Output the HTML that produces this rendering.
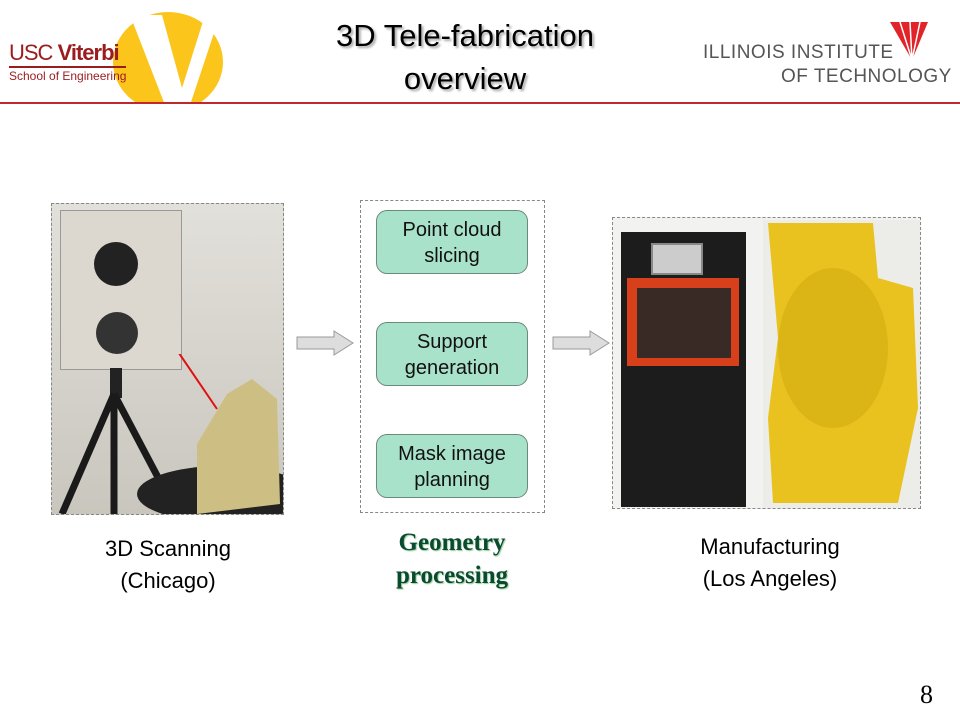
<!DOCTYPE html>
<html><head><meta charset="utf-8"><style>
body{margin:0;width:960px;height:720px;background:#fff;position:relative;overflow:hidden;font-family:"Liberation Sans",sans-serif}
.a{position:absolute}
.t{text-align:center}
.box{position:absolute;border:1px dashed #888;box-sizing:border-box}
.pill{position:absolute;left:376px;width:152px;height:64px;background:#a9e2cb;border:1px solid #6a8a7a;border-radius:11px;box-sizing:border-box;font-size:20px;line-height:26px;text-align:center;padding-top:6px;color:#111}
</style></head><body>
<!-- header -->
<div class="a" style="left:113px;top:12px;width:110px;height:100px;border-radius:50%;background:#fcc51b;clip-path:inset(0 0 8px 0)"></div>
<svg class="a" style="left:110px;top:10px" width="120" height="95"><polygon points="20,5 52,5 72,78 95,5 110,5 80,95 55,95" fill="#fff"/></svg>
<div class="a" style="left:9px;top:40px;font-size:22px;color:#9b1c1f;letter-spacing:-1px">USC <b>Viterbi</b></div>
<div class="a" style="left:9px;top:66px;font-size:12px;color:#9b1c1f;border-top:2px solid #9b1c1f;padding-top:1px">School of Engineering</div>
<div class="a t" style="left:265px;top:14px;width:400px;font-size:31px;line-height:43px;color:#000;text-shadow:2px 2px 2px #aaa">3D Tele-fabrication<br>overview</div>
<div class="a" style="left:703px;top:42px;font-size:19px;color:#555;letter-spacing:0.5px">ILLINOIS INSTITUTE</div>
<div class="a" style="left:781px;top:66px;font-size:19px;color:#555;letter-spacing:0.5px">OF TECHNOLOGY</div>
<svg class="a" style="left:890px;top:22px" width="40" height="40"><polygon points="0,0 38,0 22,38" fill="#e0242a"/><g stroke="#fff" stroke-width="1.5"><line x1="10" y1="0" x2="22" y2="38"/><line x1="20" y1="0" x2="22" y2="38"/><line x1="30" y1="0" x2="22" y2="38"/></g></svg>
<div class="a" style="left:0;top:102px;width:960px;height:2px;background:#c0282d"></div>

<!-- left photo -->
<div class="box" style="left:51px;top:203px;width:233px;height:312px;background:#d9d6ce;overflow:hidden">
 <div class="a" style="left:0;top:0;width:233px;height:312px;background:linear-gradient(#e2e0da,#c9c6be)"></div>
 <div class="a" style="left:8px;top:6px;width:120px;height:158px;background:#ddd8cf;border:1px solid #999"></div>
 <div class="a" style="left:42px;top:38px;width:44px;height:44px;border-radius:50%;background:#222"></div>
 <div class="a" style="left:44px;top:108px;width:42px;height:42px;border-radius:50%;background:#333"></div>
 <div class="a" style="left:58px;top:164px;width:12px;height:30px;background:#222"></div>
 <svg class="a" style="left:0;top:150px" width="233" height="162"><g stroke="#1a1a1a" stroke-width="7"><line x1="62" y1="40" x2="10" y2="160"/><line x1="62" y1="40" x2="62" y2="160"/><line x1="62" y1="40" x2="120" y2="150"/></g><ellipse cx="170" cy="140" rx="85" ry="28" fill="#222"/><path d="M145 90 L175 40 L200 25 L225 45 L228 150 L145 160 Z" fill="#cdbf83"/><line x1="65" y1="-92" x2="165" y2="55" stroke="#e01010" stroke-width="2"/></svg>
</div>
<div class="a t" style="left:68px;top:533px;width:200px;font-size:22px;line-height:32px">3D Scanning<br>(Chicago)</div>

<!-- arrows -->
<svg class="a" style="left:296px;top:330px" width="60" height="26"><polygon points="1,7 38,7 38,1 57,13 38,25 38,19 1,19" fill="#ddd" stroke="#999"/></svg>
<svg class="a" style="left:552px;top:330px" width="60" height="26"><polygon points="1,7 38,7 38,1 57,13 38,25 38,19 1,19" fill="#ddd" stroke="#999"/></svg>

<!-- middle -->
<div class="box" style="left:360px;top:200px;width:185px;height:313px"></div>
<div class="pill" style="top:210px">Point cloud<br>slicing</div>
<div class="pill" style="top:322px">Support<br>generation</div>
<div class="pill" style="top:434px">Mask image<br>planning</div>
<div class="a t" style="left:352px;top:526px;width:200px;font-family:'Liberation Serif',serif;font-weight:bold;font-style:normal;font-size:25px;line-height:33px;color:#0a4a30;text-shadow:1px 1px 1px #9c9">Geometry<br>processing</div>

<!-- right photo -->
<div class="box" style="left:612px;top:217px;width:309px;height:292px;overflow:hidden;background:#f2f2f0">
 <div class="a" style="left:8px;top:14px;width:125px;height:275px;background:#1c1c1c"></div>
 <div class="a" style="left:14px;top:60px;width:112px;height:88px;background:#d8401c"></div>
 <div class="a" style="left:24px;top:70px;width:94px;height:70px;background:#3a2a25"></div>
 <div class="a" style="left:38px;top:25px;width:48px;height:28px;background:#ccc;border:2px solid #888"></div>
 <div class="a" style="left:150px;top:2px;width:160px;height:288px;background:#ecece8"></div>
 <svg class="a" style="left:150px;top:0" width="160" height="292"><path d="M5 5 L110 5 L115 60 L150 70 L155 190 L135 285 L10 285 L5 200 L15 120 Z" fill="#e9c21f"/><ellipse cx="70" cy="130" rx="55" ry="80" fill="#dbb515"/></svg>
</div>
<div class="a t" style="left:670px;top:531px;width:200px;font-size:22px;line-height:32px">Manufacturing<br>(Los Angeles)</div>

<div class="a" style="left:920px;top:680px;font-family:'Liberation Serif',serif;font-size:26px">8</div>
</body></html>
